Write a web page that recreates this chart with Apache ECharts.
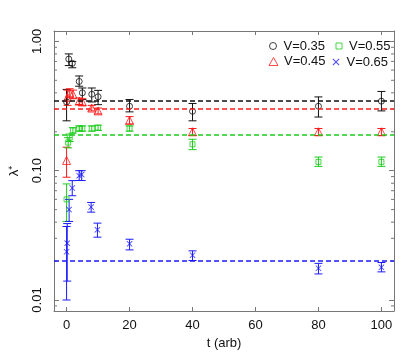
<!DOCTYPE html>
<html><head><meta charset="utf-8">
<script src="https://cdn.jsdelivr.net/npm/echarts@6/dist/echarts.min.js"></script>
<style>html,body{margin:0;padding:0;background:#fff}#c{width:415px;height:363px}</style>
</head><body><div id="c"></div>
<script>
// ---- data ----
const xTicks = [0, 20, 40, 60, 80, 100];
const yMinorTicks = [0.009, 0.02, 0.03, 0.04, 0.05, 0.06, 0.07, 0.08, 0.09, 0.2, 0.3, 0.4, 0.5, 0.6, 0.7, 0.8, 0.9];

const t35  = [0, 0.7, 1.8, 4, 5, 8, 10, 20, 40, 80, 100];
const v35  = [0.34, 0.73, 0.675, 0.49, 0.40, 0.39, 0.373, 0.315, 0.288, 0.315, 0.345];
const lo35 = [0.243, 0.65, 0.625, 0.45, 0.355, 0.34, 0.324, 0.285, 0.243, 0.26, 0.29];
const hi35 = [0.425, 0.80, 0.70, 0.54, 0.436, 0.436, 0.418, 0.355, 0.331, 0.372, 0.41];
const fit35 = 0.355;

const t45  = [0, 0.3, 1, 2, 4, 5, 8, 10, 20, 40, 80, 100];
const v45  = [0.12, 0.37, 0.40, 0.39, 0.345, 0.34, 0.305, 0.29, 0.245, 0.20, 0.20, 0.20];
const lo45 = [0.089, 0.32, 0.37, 0.36, 0.325, 0.32, 0.29, 0.275, 0.23, 0.187, 0.187, 0.187];
const hi45 = [0.152, 0.42, 0.43, 0.42, 0.365, 0.36, 0.32, 0.305, 0.262, 0.212, 0.212, 0.212];
const fit45 = 0.30;

const t55  = [0, 0.5, 1, 2, 4, 5, 8, 10, 20, 40, 80, 100];
const v55  = [0.06, 0.165, 0.18, 0.205, 0.212, 0.212, 0.212, 0.215, 0.212, 0.16, 0.117, 0.117];
const lo55 = [0.0405, 0.15, 0.168, 0.195, 0.202, 0.202, 0.202, 0.205, 0.202, 0.1455, 0.108, 0.108];
const hi55 = [0.079, 0.18, 0.192, 0.215, 0.222, 0.222, 0.222, 0.225, 0.222, 0.175, 0.1275, 0.1275];
const fit55 = 0.19;

const t65  = [0, 0.2, 0.8, 1.8, 4, 4.8, 7.8, 9.8, 20, 40, 80, 100];
const v65  = [0.0236, 0.0275, 0.05, 0.0734, 0.0915, 0.0933, 0.0523, 0.0349, 0.0272, 0.0222, 0.0176, 0.0179];
const lo65 = [0.01, 0.014, 0.0405, 0.064, 0.084, 0.084, 0.0478, 0.0306, 0.0244, 0.0202, 0.0159, 0.0165];
const hi65 = [0.037, 0.039, 0.06, 0.0838, 0.1, 0.1, 0.0568, 0.0393, 0.0295, 0.024, 0.0192, 0.0195];
const fit65 = 0.02;

// ---- build ----
const FONT = 'Liberation Sans, Arial, Helvetica, sans-serif';
const AX = '#777';
const XSYM = 'path://M0,1L1,0L5,4L9,0L10,1L6,5L10,9L9,10L5,6L1,10L0,9L4,5Z';
const groups = [
  {name: 'V=0.35', t: t35, v: v35, lo: lo35, hi: hi35, fit: fit35, color: '#111111', symbol: 'circle', size: 6, filled: false,
   leg: {left: 267, top: 39.5, w: 7, h: 7, pad: 2}},
  {name: 'V=0.45', t: t45, v: v45, lo: lo45, hi: hi45, fit: fit45, color: '#ff1a1a', symbol: 'triangle', size: 8, filled: false,
   leg: {left: 266.5, top: 55, w: 9, h: 8, pad: 1}},
  {name: 'V=0.55', t: t55, v: v55, lo: lo55, hi: hi55, fit: fit55, color: '#1ccc1c', symbol: 'rect', size: 5, filled: false,
   leg: {left: 333.5, top: 39.5, w: 6, h: 6, pad: 2}},
  {name: 'V=0.65', t: t65, v: v65, lo: lo65, hi: hi65, fit: fit65, color: '#1a1aff', symbol: XSYM, size: 6, filled: true,
   leg: {left: 332.5, top: 55.5, w: 7, h: 7, pad: 2}}
];

function styleFor(g) {
  return g.filled ? {color: g.color, borderWidth: 0}
                  : {color: 'none', borderColor: g.color, borderWidth: 1};
}

function errRender(color) {
  return function (params, api) {
    const t = api.value(0), lo = api.value(1), hi = api.value(2);
    const a = api.coord([t, lo]), b = api.coord([t, hi]);
    const w = 4;
    const st = {stroke: color, lineWidth: 1};
    return {type: 'group', children: [
      {type: 'line', shape: {x1: a[0], y1: a[1], x2: b[0], y2: b[1]}, style: st},
      {type: 'line', shape: {x1: a[0] - w, y1: a[1], x2: a[0] + w, y2: a[1]}, style: st},
      {type: 'line', shape: {x1: b[0] - w, y1: b[1], x2: b[0] + w, y2: b[1]}, style: st}
    ]};
  };
}

const series = [];
groups.forEach(g => {
  series.push({
    name: g.name, type: 'scatter', symbol: g.symbol, symbolSize: g.size,
    itemStyle: styleFor(g),
    data: g.t.map((t, i) => [t, g.v[i]]),
    z: 4,
    markLine: {
      silent: true, symbol: 'none', label: {show: false},
      lineStyle: {color: g.color, type: [5, 3], width: 1.5},
      data: [{yAxis: g.fit}]
    }
  });
});
groups.forEach(g => {
  series.push({
    name: g.name, type: 'custom', renderItem: errRender(g.color),
    itemStyle: {color: g.color},
    encode: {x: 0, y: [1, 2]},
    data: g.t.map((t, i) => [t, g.lo[i], g.hi[i]]),
    silent: true, z: 3
  });
});
series.push({
  type: 'custom', silent: true, z: 2,
  encode: {x: 0, y: 1},
  data: yMinorTicks.map(v => [0, v]),
  renderItem: function (params, api) {
    const y = api.coord([0, api.value(1)])[1];
    const cs = params.coordSys;
    const st = {stroke: AX, lineWidth: 1};
    return {type: 'group', children: [
      {type: 'line', shape: {x1: cs.x, y1: y, x2: cs.x + 3, y2: y}, style: st},
      {type: 'line', shape: {x1: cs.x + cs.width - 3, y1: y, x2: cs.x + cs.width, y2: y}, style: st}
    ]};
  }
});

const legends = groups.map(g => ({
  orient: 'vertical', left: g.leg.left, top: g.leg.top, padding: 0,
  itemWidth: g.leg.w, itemHeight: g.leg.h,
  textStyle: {fontSize: 13, color: '#111', fontFamily: FONT, padding: [0, 0, 0, g.leg.pad]},
  data: [{name: g.name, icon: g.symbol, itemStyle: styleFor(g)}]
}));

const yMin = 0.00822, yMax = 1.203;
const option = {
  animation: false,
  textStyle: {fontFamily: FONT},
  grid: {left: 52, right: 21, top: 31, bottom: 52},
  legend: legends,
  xAxis: [
    {type: 'value', min: -4, max: 104, position: 'bottom',
     name: 't (arb)', nameLocation: 'middle', nameGap: 16,
     nameTextStyle: {fontSize: 13, color: '#111', fontFamily: FONT},
     axisLine: {show: true, onZero: false, lineStyle: {color: AX}},
     axisTick: {show: true, inside: true, length: 4, lineStyle: {color: AX}, customValues: xTicks},
     axisLabel: {fontSize: 13, color: '#111', margin: 8, customValues: xTicks, fontFamily: FONT},
     splitLine: {show: false}},
    {type: 'value', min: -4, max: 104, position: 'top',
     axisLine: {show: true, onZero: false, lineStyle: {color: AX}},
     axisTick: {show: true, inside: true, length: 4, lineStyle: {color: AX}, customValues: xTicks},
     axisLabel: {show: false}, splitLine: {show: false}}
  ],
  yAxis: [
    {type: 'log', min: yMin, max: yMax, position: 'left',
     name: 'λ⁺', nameLocation: 'middle', nameGap: 33,
     nameTextStyle: {fontSize: 13, color: '#111', fontFamily: FONT},
     axisLine: {show: true, onZero: false, lineStyle: {color: AX}},
     axisTick: {show: true, inside: true, length: 5, lineStyle: {color: AX}},
     axisLabel: {fontSize: 13, color: '#111', rotate: 90, margin: 10, showMinLabel: false, showMaxLabel: false,
       fontFamily: FONT, formatter: v => Number(v).toFixed(2)},
     splitLine: {show: false}},
    {type: 'log', min: yMin, max: yMax, position: 'right',
     axisLine: {show: true, onZero: false, lineStyle: {color: AX}},
     axisTick: {show: true, inside: true, length: 5, lineStyle: {color: AX}},
     axisLabel: {show: false}, splitLine: {show: false}}
  ],
  series: series
};
const chart = echarts.init(document.getElementById('c'), null, {renderer: 'canvas'});
chart.setOption(option);
</script></body></html>
